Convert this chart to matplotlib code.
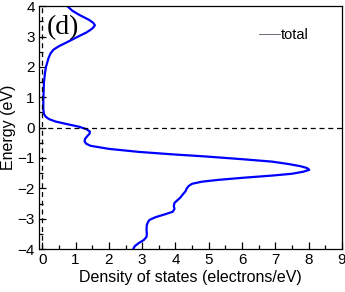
import matplotlib
matplotlib.use('Agg')
import matplotlib.pyplot as plt
from matplotlib.lines import Line2D
from matplotlib.ticker import MultipleLocator

# total DOS (energy in eV, states/eV)
energy = [4.0, 3.85, 3.7, 3.55, 3.45, 3.37, 3.28, 3.2, 3.13, 3.0, 2.9, 2.8,
          2.68, 2.57, 2.45, 2.3, 2.15, 2.0, 1.8, 1.5, 1.2, 0.9, 0.6, 0.45,
          0.36, 0.28, 0.2, 0.12, 0.03, -0.05, -0.13, -0.2, -0.28, -0.38,
          -0.46, -0.53, -0.6, -0.7, -0.8, -0.88, -0.95, -1.04, -1.12, -1.2,
          -1.27, -1.33, -1.39, -1.45, -1.52, -1.58, -1.65, -1.72, -1.78,
          -1.85, -1.92, -2.0, -2.1, -2.2, -2.3, -2.4, -2.48, -2.58, -2.68,
          -2.77, -2.85, -2.95, -3.04, -3.1, -3.2, -3.35, -3.5, -3.6, -3.7,
          -3.8, -3.9, -4.0]
dos = [0.75, 0.9, 1.13, 1.4, 1.53, 1.58, 1.52, 1.42, 1.32, 1.08, 0.9, 0.72,
       0.5, 0.34, 0.25, 0.19, 0.15, 0.11, 0.08, 0.05, 0.04, 0.03, 0.03, 0.05,
       0.1, 0.2, 0.4, 0.72, 1.1, 1.32, 1.43, 1.42, 1.35, 1.28, 1.27, 1.32,
       1.45, 2.0, 2.9, 3.9, 4.9, 6.0, 6.9, 7.4, 7.75, 7.95, 8.02, 7.85, 7.5,
       6.9, 6.05, 5.3, 4.8, 4.5, 4.4, 4.34, 4.3, 4.22, 4.15, 4.05, 3.97,
       3.95, 3.97, 3.92, 3.7, 3.4, 3.22, 3.18, 3.14, 3.13, 3.14, 3.13, 3.05,
       2.9, 2.78, 2.73]

plt.rcParams['font.family'] = ['Liberation Sans', 'DejaVu Sans']

fig = plt.figure(figsize=(3.45, 2.92), dpi=100)
ax = fig.add_axes([0.113, 0.147, 0.878, 0.832])

ax.plot(dos, energy, color='#0000ff', lw=1.6, solid_joinstyle='round')
ax.axhline(0, color='k', ls=(0, (4, 3)), lw=0.9)
ax.axvline(0, color='k', ls=(0, (4, 3)), lw=0.9)

ax.set_xlim(-0.1, 9)
ax.set_ylim(-4, 4)
ax.xaxis.set_major_locator(MultipleLocator(1))
ax.xaxis.set_minor_locator(MultipleLocator(0.5))
ax.yaxis.set_major_locator(MultipleLocator(1))
ax.yaxis.set_minor_locator(MultipleLocator(0.5))
ax.tick_params(which='both', direction='in', top=False, right=False,
               labelsize=11, pad=3)
ax.tick_params(which='major', length=5, width=0.9)
ax.tick_params(which='minor', length=3, width=0.9)
for s in ax.spines.values():
    s.set_linewidth(0.9)

ax.set_xlabel('Density of states (electrons/eV)', fontsize=11.5, labelpad=2)
ax.set_ylabel('Energy (eV)', fontsize=11.5, labelpad=1)

ax.text(0.62, 3.3, '(d)', family='Liberation Serif', fontsize=20,
        ha='center', va='center')

handle = Line2D([], [], color='#555566', lw=0.6)
ax.legend([handle], ['total'], loc='upper right', frameon=False,
          fontsize=10.5, handlelength=1.4, handletextpad=0.1,
          bbox_to_anchor=(0.935, 0.965))

fig.savefig('out.png', dpi=100)
